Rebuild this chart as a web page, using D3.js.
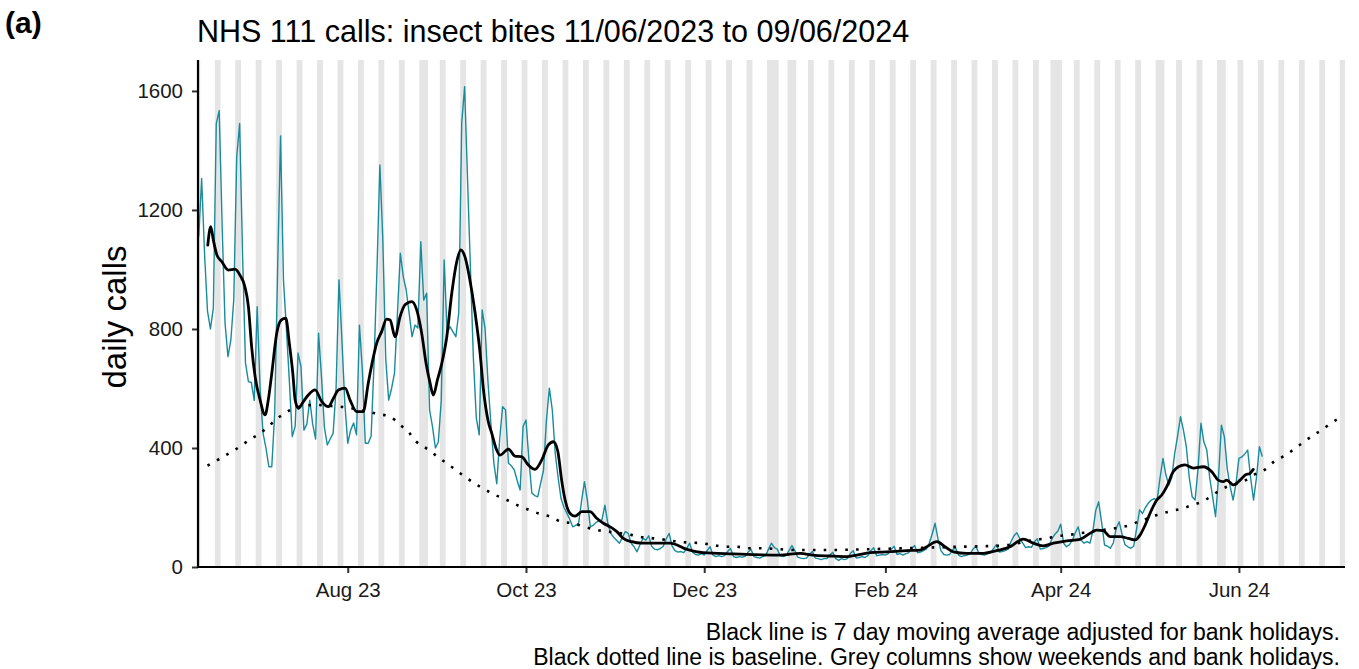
<!DOCTYPE html>
<html><head><meta charset="utf-8">
<script src="https://cdn.jsdelivr.net/npm/d3@7"></script>
<style>
html,body{margin:0;padding:0;background:#fff;}
svg{display:block;font-family:"Liberation Sans",Arial,sans-serif;}
</style></head>
<body>
<svg id="chart" width="1359" height="669"></svg>
<script>
// ---------------- data ----------------
const startDate = "2023-06-11";           // first day of series (day index 0)
const titleText = "NHS 111 calls: insect bites 11/06/2023 to 09/06/2024";
const panelLabel = "(a)";
const yLabel = "daily calls";
const captionLines = [
  "Black line is 7 day moving average adjusted for bank holidays.",
  "Black dotted line is baseline. Grey columns show weekends and bank holidays."
];
const yTicks = [0, 400, 800, 1200, 1600];
const xTickDates = ["2023-08-01","2023-10-01","2023-12-01","2024-02-01","2024-04-01","2024-06-01"];
const bankHolidays = ["2023-08-28","2023-12-25","2023-12-26","2024-01-01","2024-03-29","2024-04-01","2024-05-06","2024-05-27"];
const axisEndDay = 392.3;

// daily calls, day 0 = 11/06/2023 ... day 364 = 09/06/2024
const dailyCalls = [
  1110,1306,1050,860,800,870,1490,1534,1150,820,707,763,900,1379,1491,
  1050,686,623,620,560,875,600,450,400,337,337,517,1000,1449,965,
  800,628,438,472,719,673,460,480,561,480,430,786,640,470,410,
  430,450,600,965,763,550,416,460,484,444,813,662,416,416,440,
  686,1000,1351,1100,700,561,600,652,850,1055,976,931,854,774,813,
  803,1093,897,920,528,472,400,420,560,1032,786,808,790,774,854,
  1492,1614,1301,1000,700,500,444,864,800,620,480,350,280,430,539,
  528,349,340,326,290,259,472,494,360,249,240,236,280,326,494,
  601,528,383,300,230,200,181,160,135,140,147,220,287,225,135,
  140,150,155,158,208,147,113,100,90,80,100,119,113,80,68,
  51,75,96,90,105,70,60,58,62,70,95,113,70,55,50,
  52,48,62,80,50,42,40,45,40,55,68,40,35,38,35,
  38,52,62,35,32,35,33,36,50,60,35,32,30,35,38,
  60,80,65,60,38,35,38,55,72,55,33,30,28,30,42,
  52,30,28,25,28,28,40,50,28,22,28,25,28,45,55,
  30,32,35,32,38,55,65,38,40,42,40,45,60,70,42,
  45,40,45,48,62,72,48,50,55,60,80,110,147,95,55,
  42,40,42,58,65,40,35,38,40,45,60,70,45,42,40,
  45,48,62,75,50,52,55,60,85,105,115,95,80,65,68,
  66,85,95,60,62,65,70,95,110,120,144,80,68,75,90,
  115,135,90,80,85,80,120,190,219,150,74,70,63,80,130,
  152,110,75,68,63,70,130,192,180,200,215,225,230,225,300,
  365,309,276,300,380,440,505,460,404,300,236,225,330,483,420,
  393,300,236,169,300,477,438,330,270,225,280,365,370,380,393,
  300,225,300,404,371
];

// 7 day moving average, day index + value
const maDays = [3.1,4.1,5.0,6.2,7.9,10.1,12.4,14.1,15.8,17.0,
  18.1,19.3,21.0,22.7,23.8,25.0,26.7,28.2,29.8,31.0,
  32.2,33.0,34.1,35.8,37.5,39.8,42.1,44.4,46.1,47.8,
  50.1,51.8,54.1,56.3,58.0,59.8,60.9,62.6,64.3,65.5,
  67.2,68.9,70.6,72.9,74.6,76.3,77.8,79.2,80.3,81.7,
  83.2,84.9,86.6,88.3,89.7,91.1,92.8,94.6,96.3,97.4,
  99.1,100.3,101.7,103.1,106.0,108.2,110.5,112.8,115.1,117.4,
  119.6,121.4,122.9,124.2,125.4,127.1,128.8,131.1,133.9,136.2,
  138.5,140.8,143.1,145.3,148.2,151.6,155.0,161.3,167.1,172.6,
  182.9,198.9,205.8,210.2,216.0,221.8,225.2,229.7,235.5,242.3,
  246.9,249.2,252.6,255.4,258.3,262.8,268.5,273.1,277.7,282.2,
  285.6,289.0,292.5,297.1,301.6,305.0,307.3,309.6,311.9,315.3,
  318.2,320.5,322.2,323.9,326.1,327.9,329.6,331.3,333.5,335.3,
  337.5,340.4,343.8,346.7,348.9,350.6,351.8,354.1,356.4,358.1,
  359.8,360.9];
const maValues = [1082,1144,1099,1049,1026,998,1001,981,942,875,
  741,640,561,511,561,651,786,830,836,752,
  651,561,533,556,578,595,556,539,567,595,
  601,561,522,522,617,707,752,791,833,830,
  774,841,881,892,864,786,685,617,578,629,
  685,774,920,1026,1066,1043,965,853,718,600,
  488,449,400,376,396,373,371,343,328,360,
  410,421,388,292,225,180,171,186,186,164,
  147,135,119,96,85,80,80,80,59,48,
  44,40,46,40,37,35,40,48,51,55,
  57,68,85,68,51,46,46,55,68,94,
  80,71,80,88,93,113,124,122,102,102,
  96,91,108,141,192,225,242,270,320,337,
  343,332,337,320,292,287,292,276,292,309,
  315,328];

// baseline (dotted), day index + value
const baseDays = [3,7,10.5,14,17.6,21,24,27,31,34,
  40,45.5,50,55,61.5,65.5,69,72,74.5,78,
  81,84.5,88,91,101.5,105.5,109,113,117,120.5,
  124,128,132,136,140,148,152,156,160,164,
  168,172,176,180,184,188,192,200,204,215,
  230,245,260,275,286,290,294,298,306,314,
  318,321,325,328,332,336,340,344,347,350,
  358,361,365,368,371.5,375,378,381.5,385,388,390];
const baseValues = [341,363,383,404,429,449,474,500,526,538,
  545,541,537,528,514,505,477,451,421,398,
  376,351,326,304,242,225,208,192,178,169,
  152,147,135,125,119,108,100,96,91,85,
  82,80,74,68,68,63,63,59,57,57,
  60,64,68,72,91,96,104,108,120,131,
  139,150,164,175,186,195,208,222,242,261,
  290,309,328,354,373,397,419,443,465,487,498];

// ---------------- drawing ----------------
const DAY = 86400000;
const t0 = Date.parse(startDate + "T00:00:00Z");
const dayDate = d => new Date(t0 + d * DAY);

const svg = d3.select("#chart");
const plot = {left: 198, right: 1345, top: 60, bottom: 567};

const x = d3.scaleUtc().domain([dayDate(-0.25), dayDate(axisEndDay)]).range([plot.left, plot.right]);
const y = d3.scaleLinear().domain([0, 1704]).range([plot.bottom, plot.top]);

svg.append("defs").append("clipPath").attr("id","clip")
  .append("rect").attr("x",plot.left).attr("y",plot.top)
  .attr("width",plot.right-plot.left).attr("height",plot.bottom-plot.top);

// grey columns: weekends + bank holidays, merged into runs
const bh = new Set(bankHolidays);
const greyDays = [];
for (let d = -2; d <= Math.ceil(axisEndDay) + 1; d++) {
  const dt = dayDate(d);
  const wd = dt.getUTCDay();
  const iso = dt.toISOString().slice(0,10);
  if (wd === 0 || wd === 6 || bh.has(iso)) greyDays.push(d);
}
const runs = [];
greyDays.forEach(d => {
  const last = runs[runs.length-1];
  if (last && last[1] === d - 1) last[1] = d; else runs.push([d, d]);
});
const gCols = svg.append("g").attr("clip-path","url(#clip)");
gCols.selectAll("rect").data(runs).join("rect")
  .attr("x", r => x(dayDate(r[0]-0.5)))
  .attr("width", r => x(dayDate(r[1]+0.5)) - x(dayDate(r[0]-0.5)))
  .attr("y", plot.top).attr("height", plot.bottom-plot.top)
  .attr("fill", "#e5e5e5");

const gLines = svg.append("g").attr("clip-path","url(#clip)");

// daily calls
const daily = dailyCalls.map((v,i) => ({date: dayDate(i), v}));
gLines.append("path").datum(daily)
  .attr("fill","none").attr("stroke","#1a8b9d").attr("stroke-width",1.4)
  .attr("stroke-linejoin","round")
  .attr("d", d3.line().x(p => x(p.date)).y(p => y(p.v)));

// baseline dotted
const base = baseDays.map((d,i) => ({date: dayDate(d), v: baseValues[i]}));
gLines.append("path").datum(base)
  .attr("fill","none").attr("stroke","#000").attr("stroke-width",2.6)
  .attr("stroke-dasharray","2.6 8.2")
  .attr("d", d3.line().curve(d3.curveMonotoneX).x(p => x(p.date)).y(p => y(p.v)));

// moving average
const ma = maDays.map((d,i) => ({date: dayDate(d), v: maValues[i]}));
gLines.append("path").datum(ma)
  .attr("fill","none").attr("stroke","#000").attr("stroke-width",2.8)
  .attr("stroke-linejoin","round").attr("stroke-linecap","round")
  .attr("d", d3.line().curve(d3.curveMonotoneX).x(p => x(p.date)).y(p => y(p.v)));

// axes
const yAxis = svg.append("g").attr("transform",`translate(${plot.left},0)`)
  .call(d3.axisLeft(y).tickValues(yTicks).tickSize(6).tickPadding(9).tickFormat(d3.format("d")));
const xAxis = svg.append("g").attr("transform",`translate(0,${plot.bottom})`)
  .call(d3.axisBottom(x).tickValues(xTickDates.map(s => new Date(s+"T00:00:00Z")))
    .tickSize(6).tickPadding(9).tickFormat(d3.utcFormat("%b %y")));
[yAxis, xAxis].forEach(g => {
  g.select(".domain").remove();
  g.selectAll(".tick line").attr("stroke","#333").attr("stroke-width",2);
  g.selectAll(".tick text").attr("fill","#1a1a1a").style("font-size","20.5px")
    .style("font-family","'Liberation Sans',Arial,sans-serif");
});
// axis lines
svg.append("line").attr("x1",plot.left).attr("x2",plot.left).attr("y1",plot.top).attr("y2",plot.bottom+1)
  .attr("stroke","#000").attr("stroke-width",2.2);
svg.append("line").attr("x1",plot.left-1).attr("x2",plot.right).attr("y1",plot.bottom).attr("y2",plot.bottom)
  .attr("stroke","#000").attr("stroke-width",2.2);

// texts
svg.append("text").attr("x",197).attr("y",42).text(titleText)
  .style("font-size","30.5px").attr("fill","#000");
svg.append("text").attr("x",5).attr("y",33).text(panelLabel)
  .style("font-size","30px").style("font-weight","bold").attr("fill","#000");
svg.append("text").attr("transform","translate(126,317) rotate(-90)")
  .attr("text-anchor","middle").text(yLabel).style("font-size","33px").attr("fill","#000");
captionLines.forEach((t,i) => {
  svg.append("text").attr("x",1340).attr("y",640 + i*24.5).attr("text-anchor","end")
    .text(t).style("font-size","23px").attr("fill","#000");
});
</script>
</body></html>
